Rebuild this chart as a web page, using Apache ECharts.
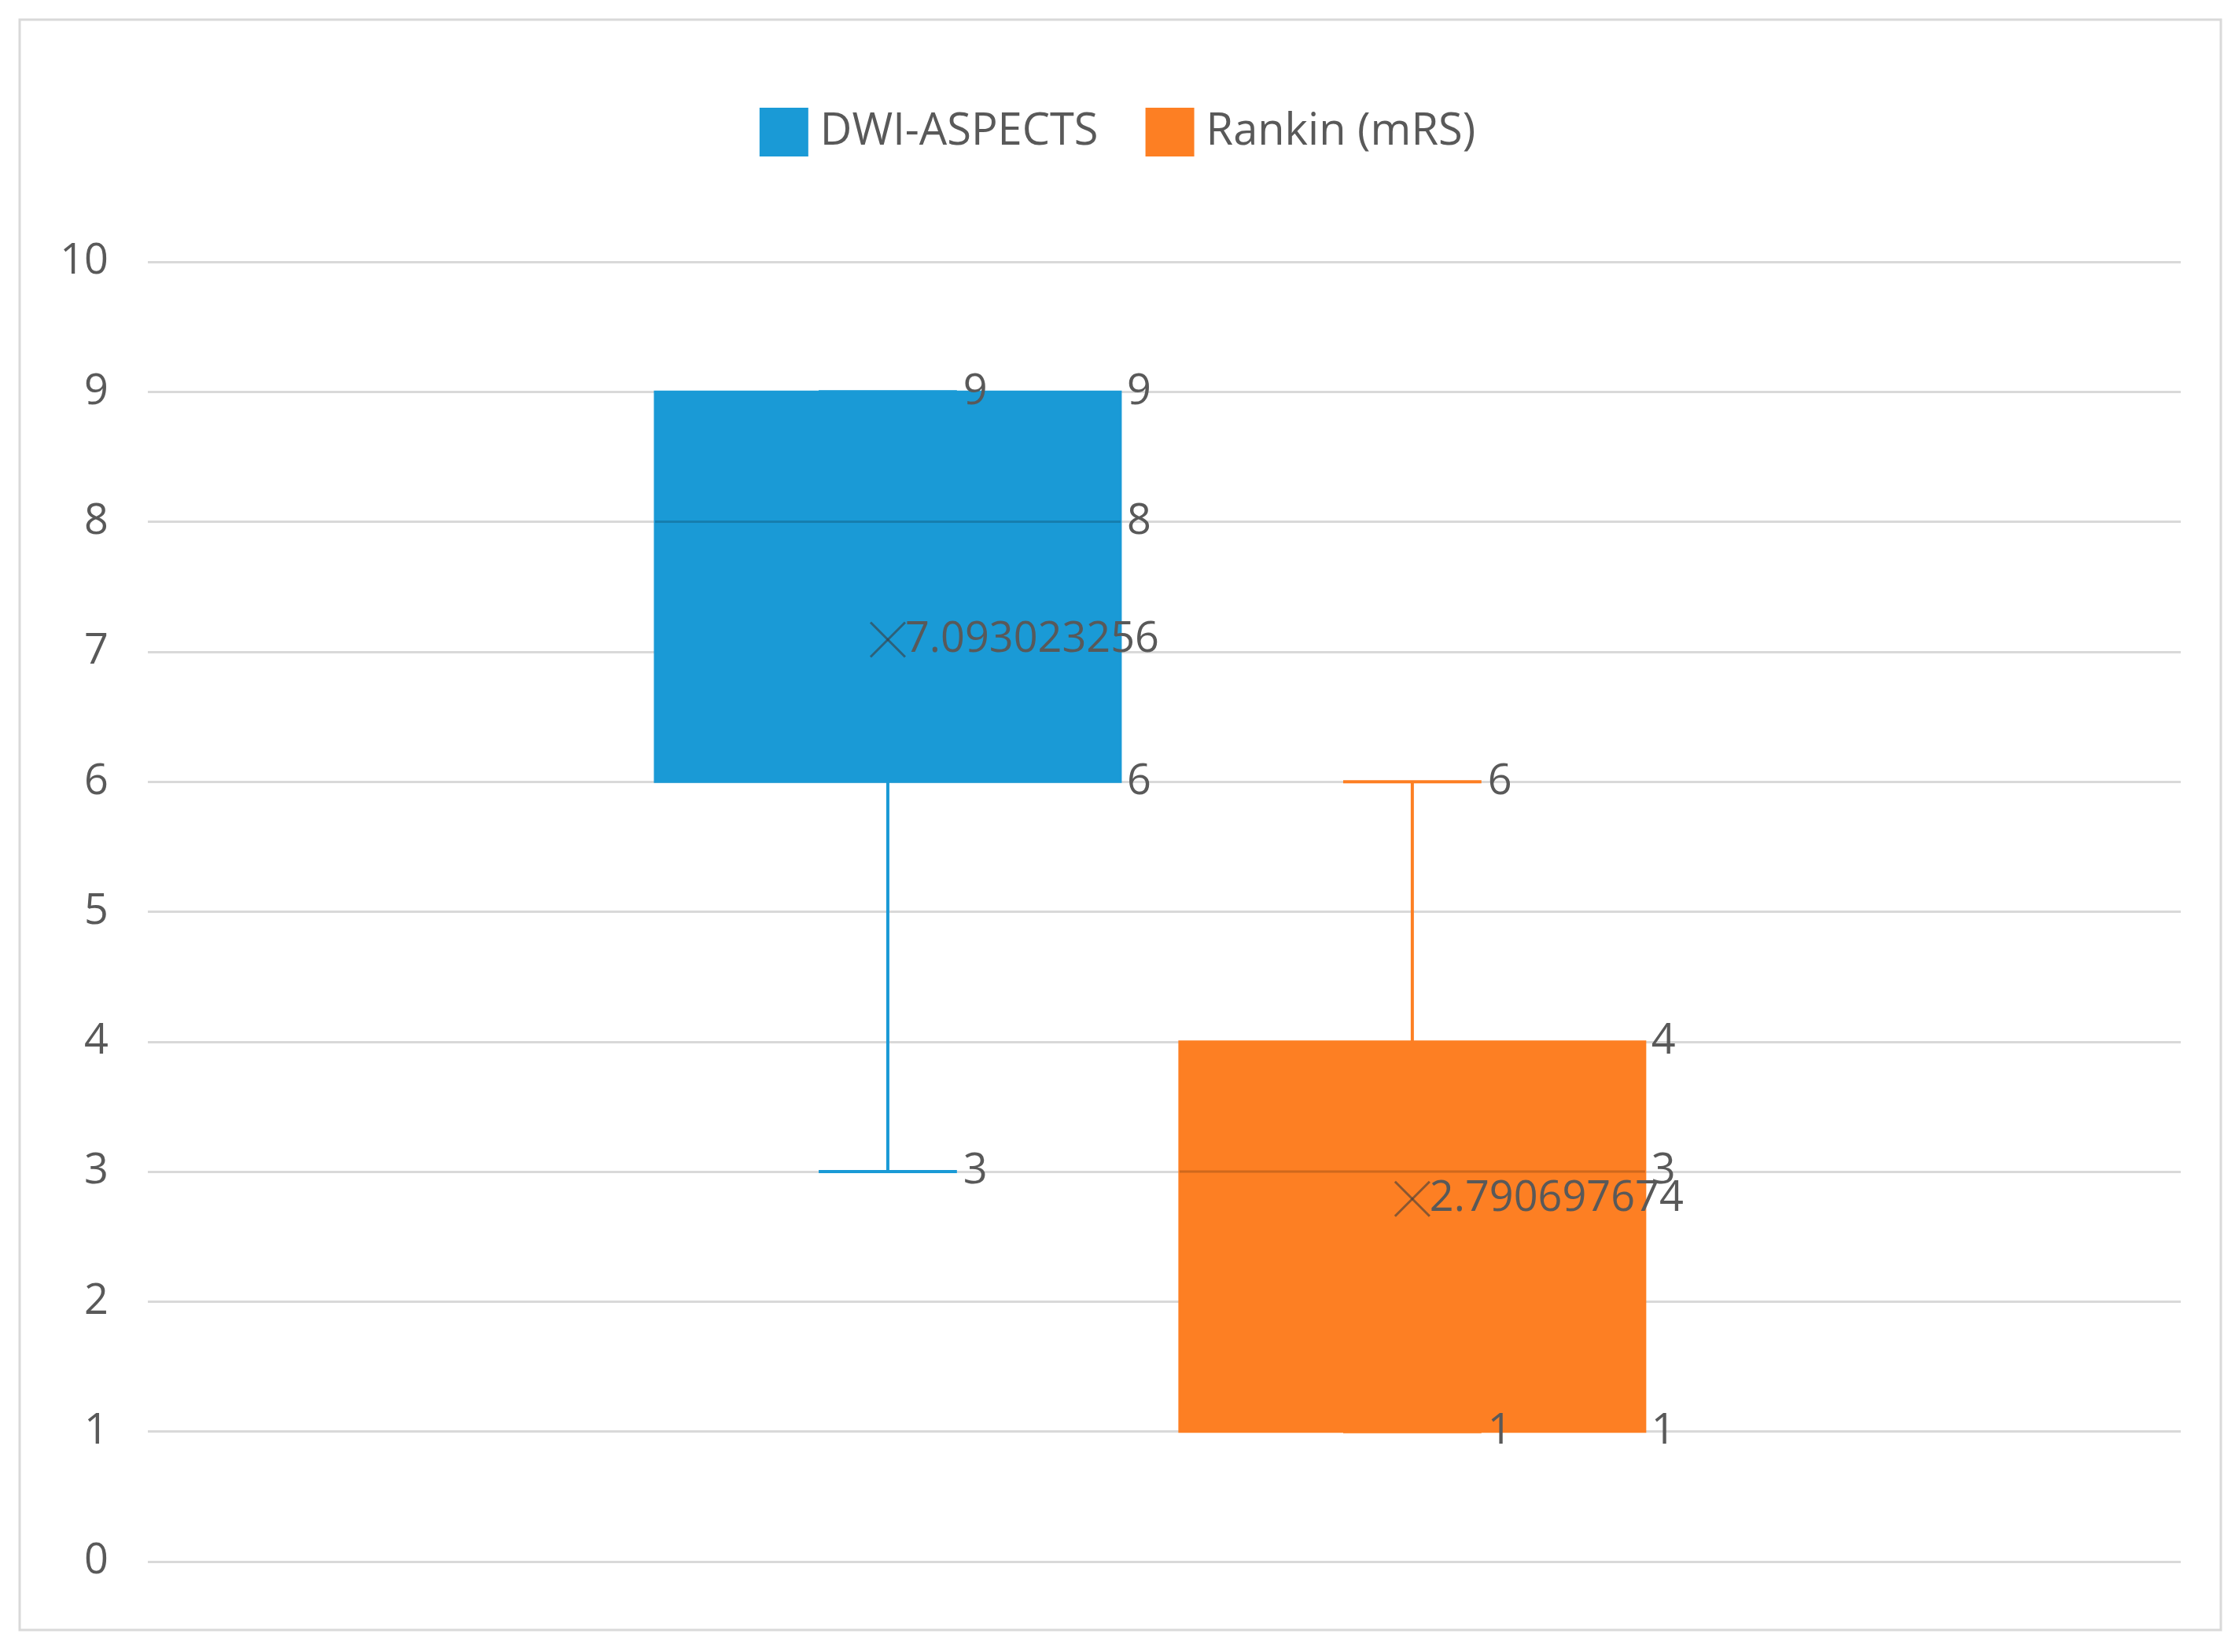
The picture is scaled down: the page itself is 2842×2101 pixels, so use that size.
<!DOCTYPE html>
<html><head><meta charset="utf-8">
<script src="https://cdn.jsdelivr.net/npm/echarts@6/dist/echarts.min.js"></script>
<style>html,body{margin:0;padding:0;background:#fff}#c{width:2842px;height:2101px}</style>
</head><body><div id="c"></div>
<script>
const seriesNames = ['DWI-ASPECTS', 'Rankin (mRS)'];
const colors = ['#1a9ad6', '#fd7f23'];
// [min, Q1, median, Q3, max, mean]
const dwiStats = [3, 6, 8, 9, 9, 7.093023256];
const mrsStats = [1, 1, 3, 4, 6, 2.790697674];
const yTicks = [0, 1, 2, 3, 4, 5, 6, 7, 8, 9, 10];

const centers = [0.364, 0.622];
const halfW = 0.1145, capHalf = 0.034;
const labelFont = '54px "Open Sans", sans-serif';
const labCol = '#595959';

function makeSeries(idx, stats) {
  return {
    type: 'custom', name: seriesNames[idx], color: colors[idx],
    data: [stats],
    renderItem: function (params, api) {
      const s = stats, cx = centers[idx], col = colors[idx];
      const c = (x, y) => api.coord([x, y]);
      const L = c(cx - halfW, s[3]), R = c(cx + halfW, s[1]);
      const children = [];
      // whiskers
      const wTop = c(cx, s[4]), q3 = c(cx, s[3]), q1 = c(cx, s[1]), wBot = c(cx, s[0]);
      children.push({type:'line', shape:{x1:wTop[0],y1:wTop[1],x2:q3[0],y2:q3[1]}, style:{stroke:col,lineWidth:4}});
      children.push({type:'line', shape:{x1:q1[0],y1:q1[1],x2:wBot[0],y2:wBot[1]}, style:{stroke:col,lineWidth:4}});
      const capT1 = c(cx-capHalf, s[4]), capT2 = c(cx+capHalf, s[4]);
      const capB1 = c(cx-capHalf, s[0]), capB2 = c(cx+capHalf, s[0]);
      children.push({type:'line', shape:{x1:capT1[0],y1:capT1[1],x2:capT2[0],y2:capT2[1]}, style:{stroke:col,lineWidth:4}});
      children.push({type:'line', shape:{x1:capB1[0],y1:capB1[1],x2:capB2[0],y2:capB2[1]}, style:{stroke:col,lineWidth:4}});
      // box
      children.push({type:'rect', shape:{x:L[0],y:L[1],width:R[0]-L[0],height:R[1]-L[1]}, style:{fill:col,stroke:col,lineWidth:3}});
      const m1 = c(cx-halfW, s[2]), m2 = c(cx+halfW, s[2]);
      children.push({type:'line', shape:{x1:m1[0],y1:m1[1],x2:m2[0],y2:m2[1]}, style:{stroke:'rgba(0,0,0,0.18)',lineWidth:3}});
      // mean X
      const mp = c(cx, s[5]), d = 22;
      children.push({type:'line', shape:{x1:mp[0]-d,y1:mp[1]-d,x2:mp[0]+d,y2:mp[1]+d}, style:{stroke:'rgba(60,60,60,0.6)',lineWidth:3}});
      children.push({type:'line', shape:{x1:mp[0]-d,y1:mp[1]+d,x2:mp[0]+d,y2:mp[1]-d}, style:{stroke:'rgba(60,60,60,0.6)',lineWidth:3}});
      const txt = (p, t) => ({type:'text', x:p[0], y:p[1], style:{text:t, fill:labCol, font:labelFont, verticalAlign:'middle', align:'left'}});
      children.push(txt([mp[0]+d, mp[1]], String(s[5])));
      children.push(txt([capB2[0]+8, capB2[1]], String(s[0])));
      children.push(txt([capT2[0]+8, capT2[1]], String(s[4])));
      children.push(txt([R[0]+8, R[1]], String(s[1])));
      children.push(txt([m2[0]+8, m2[1]], String(s[2])));
      children.push(txt([R[0]+8, L[1]], String(s[3])));
      return {type:'group', children};
    }
  };
}

const chart = echarts.init(document.getElementById('c'));
chart.setOption({
  backgroundColor: '#fff',
  animation: false,
  graphic: [{type:'rect', shape:{x:25,y:25,width:2799,height:2048}, style:{fill:'none',stroke:'#d9d9d9',lineWidth:3}, silent:true}],
  legend: {
    top: 132, left: 'center', itemWidth: 62, itemHeight: 62, itemGap: 60,
    icon: 'rect',
    textStyle: {fontSize: 56, color: labCol, fontFamily: '"Open Sans", sans-serif', padding:[0,0,0,10]},
    data: seriesNames
  },
  grid: {left: 188, right: 69, top: 333, bottom: 115},
  xAxis: {type:'value', min:0, max:1, show:false},
  yAxis: {
    type:'value', min: yTicks[0], max: yTicks[yTicks.length-1], interval: 1,
    axisLine:{show:false}, axisTick:{show:false},
    axisLabel:{fontSize:54, color:labCol, margin:50, fontFamily:'"Open Sans", sans-serif'},
    splitLine:{lineStyle:{color:'#d9d9d9', width:3}}
  },
  series: [makeSeries(0, dwiStats), makeSeries(1, mrsStats)]
});
</script></body></html>
